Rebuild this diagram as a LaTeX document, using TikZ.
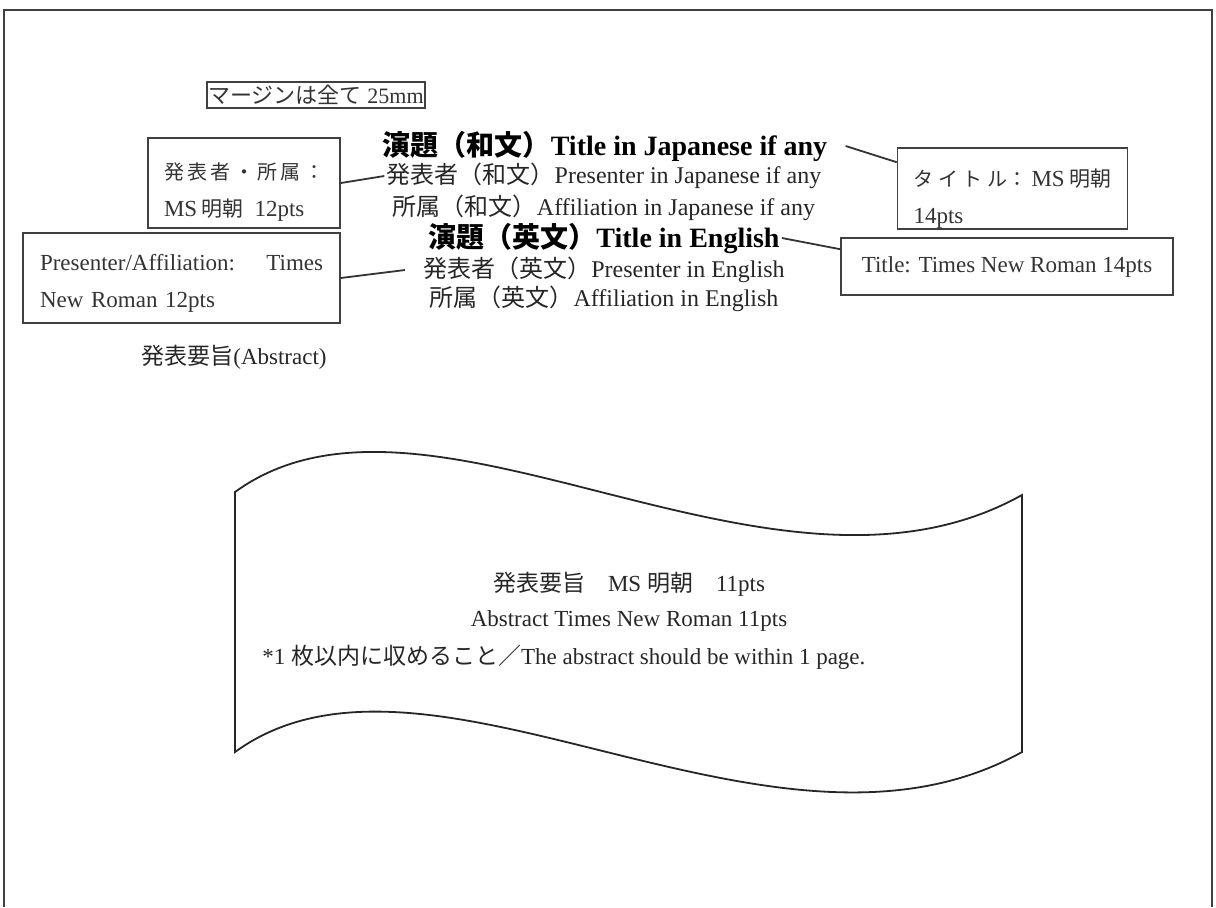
\documentclass[tikz,border=0pt]{standalone}
\usepackage{fontspec}
\setmainfont{Liberation Serif}
\newfontfamily\jp{Noto Sans CJK JP}
\newcommand{\myfs}[2]{\fontsize{#1}{#2}\selectfont}
\tikzset{
  lbl/.style={inner sep=1pt, text=black!85, font=\myfs{11.5}{13}},
  ttl/.style={inner sep=1pt, font=\myfs{14}{16}\bfseries, text=black},
  sub/.style={inner sep=1pt, font=\myfs{12}{14}, text=black!85},
  box/.style={draw=black!75, line width=0.8pt, inner sep=0pt, font=\myfs{11.5}{18.5}, text=black!80},
  conn/.style={draw=black!80, line width=0.9pt},
  wave/.style={draw=black!85, line width=0.9pt},
}
\begin{document}
\begin{tikzpicture}[x=0.5pt,y=-0.5pt]
\useasboundingbox (0,0) rectangle (1216,907);
\draw[black!75, line width=1pt] (4,907) -- (4,10) -- (1212,10) -- (1212,907);

\node[box, font=\myfs{11}{13}, minimum width=109pt, minimum height=13pt] (margin) at (316,95) {{\jp マージンは全て} 25mm};

\node[ttl] (t1) at (605,146) {{\jp 演題（和文）}Title in Japanese if any};
\node[sub] (p1) at (604,176) {{\jp 発表者（和文）}Presenter in Japanese if any};
\node[sub] (a1) at (604,208) {{\jp 所属（和文）}Affiliation in Japanese if any};
\node[ttl] (t2) at (604,238) {{\jp 演題（英文）}Title in English};
\node[sub] (p2) at (604,270) {{\jp 発表者（英文）}Presenter in English};
\node[sub] (a2) at (604,299) {{\jp 所属（英文）}Affiliation in English};

\node[box, text width=80pt, align=left, inner xsep=8pt, minimum height=45pt] (l1) at (244,183)
  {\hbox to \linewidth{\rule{0pt}{17pt}\jp\myfs{10}{18.5}発\hfill 表\hfill 者\hfill ・\hfill 所\hfill 属\hfill ：}\\ MS\,{\jp\myfs{10.5}{18.5}明朝}\enspace 12pts};
\node[box, text width=141.5pt, align=left, inner xsep=8.5pt, minimum height=45pt] (pa) at (181.5,278)
  {\hbox to \linewidth{\rule{0pt}{13pt}Presenter/Affiliation:\hfill Times}\\ New Roman 12pts};
\node[box, text width=99pt, align=left, inner xsep=8pt, minimum height=40.5pt] (tj) at (1012.5,188.5)
  {\hbox to \linewidth{\rule{0pt}{19pt}{\jp\myfs{10}{18.5}タ\hfill イ\hfill ト\hfill ル：}\,MS\hfill{\jp\myfs{10.5}{18.5}明朝}}\\ 14pts};
\node[box, minimum width=166pt, minimum height=28.5pt] (te) at (1007,266.5) {Title: Times New Roman 14pts};

\node[lbl] (abs) at (234,357) {{\jp 発表要旨}(Abstract)};

\draw[wave] (235,492) .. controls (428,352) and (771,635) .. (1022,495) -- (1022,752)
  .. controls (771,892) and (428,612) .. (235,752) -- cycle;

\node[lbl] (ab1) at (629,584) {{\jp 発表要旨}\quad MS {\jp 明朝}\quad 11pts};
\node[lbl] (ab2) at (629,621) {Abstract Times New Roman 11pts};
\node[lbl, anchor=west] (ab3) at (260,657) {*1 {\jp 枚以内に収めること／}The abstract should be within 1 page.};

\draw[conn] ([xshift=8pt]t1.east) -- ([yshift=-7.5pt]tj.north west);
\draw[conn] (t2.east) -- ([yshift=-6pt]te.north west);
\draw[conn] (l1.east) -- (p1.west);
\draw[conn] (pa.east) -- ([xshift=-8pt]p2.west);
\end{tikzpicture}
\end{document}
